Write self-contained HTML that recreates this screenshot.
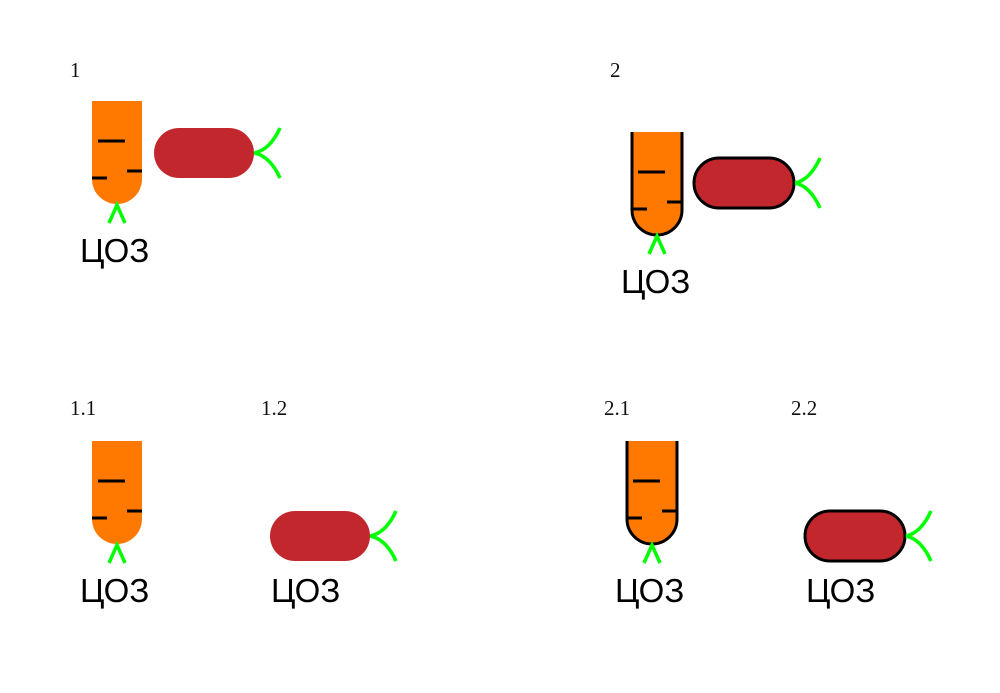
<!DOCTYPE html>
<html><head><meta charset="utf-8"><style>
html,body{margin:0;padding:0;background:#fff}
svg{display:block}
.n{font-family:"Liberation Serif",serif;font-size:21px;fill:#111}
.l{font-family:"Liberation Sans","DejaVu Sans",sans-serif;font-size:33px;fill:#000}
</style></head><body>
<svg width="1000" height="693" viewBox="0 0 1000 693" xmlns="http://www.w3.org/2000/svg">
<defs>
<g id="c">
<path d="M0,0H50V78A25,25 0 0 1 0,78Z" fill="#ff7900"/>
<path d="M6,40H33M0,77H15M35,70H50" stroke="#000" stroke-width="3"/>
<path d="M17,122L25,104L33,122" fill="none" stroke="#00ff00" stroke-width="3.5"/>
</g>
<g id="cs">
<path d="M0,0H50V78A25,25 0 0 1 0,78Z" fill="#ff7900"/>
<path d="M0,0V78A25,25 0 0 0 50,78V0" fill="none" stroke="#000" stroke-width="3"/>
<path d="M6,40H33M0,77H15M35,70H50" stroke="#000" stroke-width="3"/>
<path d="M17,122L25,104L33,122" fill="none" stroke="#00ff00" stroke-width="3.5"/>
</g>
<g id="s">
<rect x="0" y="0" width="100" height="50" rx="25" fill="#c1272d"/>
<path d="M100,25Q116,22 126,0M100,25Q116,28 126,50" fill="none" stroke="#00ff00" stroke-width="3.5"/>
</g>
<g id="ss">
<rect x="0" y="0" width="100" height="50" rx="25" fill="#c1272d" stroke="#000" stroke-width="3"/>
<path d="M101,25Q116,22 126,0M101,25Q116,28 126,50" fill="none" stroke="#00ff00" stroke-width="3.5"/>
</g>
</defs>
<text class="n" x="70" y="77">1</text>
<use href="#c" x="92" y="101"/>
<use href="#s" x="154" y="128"/>
<text class="l" x="80" y="262">ЦОЗ</text>

<text class="n" x="610" y="77">2</text>
<use href="#cs" x="632" y="132"/>
<use href="#ss" x="694" y="158"/>
<text class="l" x="621" y="293">ЦОЗ</text>

<text class="n" x="70" y="415">1.1</text>
<use href="#c" x="92" y="441"/>
<text class="l" x="80" y="602">ЦОЗ</text>
<text class="n" x="261" y="415">1.2</text>
<use href="#s" x="270" y="511"/>
<text class="l" x="271" y="602">ЦОЗ</text>

<text class="n" x="604" y="415">2.1</text>
<use href="#cs" x="627" y="441"/>
<text class="l" x="615" y="602">ЦОЗ</text>
<text class="n" x="791" y="415">2.2</text>
<use href="#ss" x="805" y="511"/>
<text class="l" x="806" y="602">ЦОЗ</text>
</svg>
</body></html>
